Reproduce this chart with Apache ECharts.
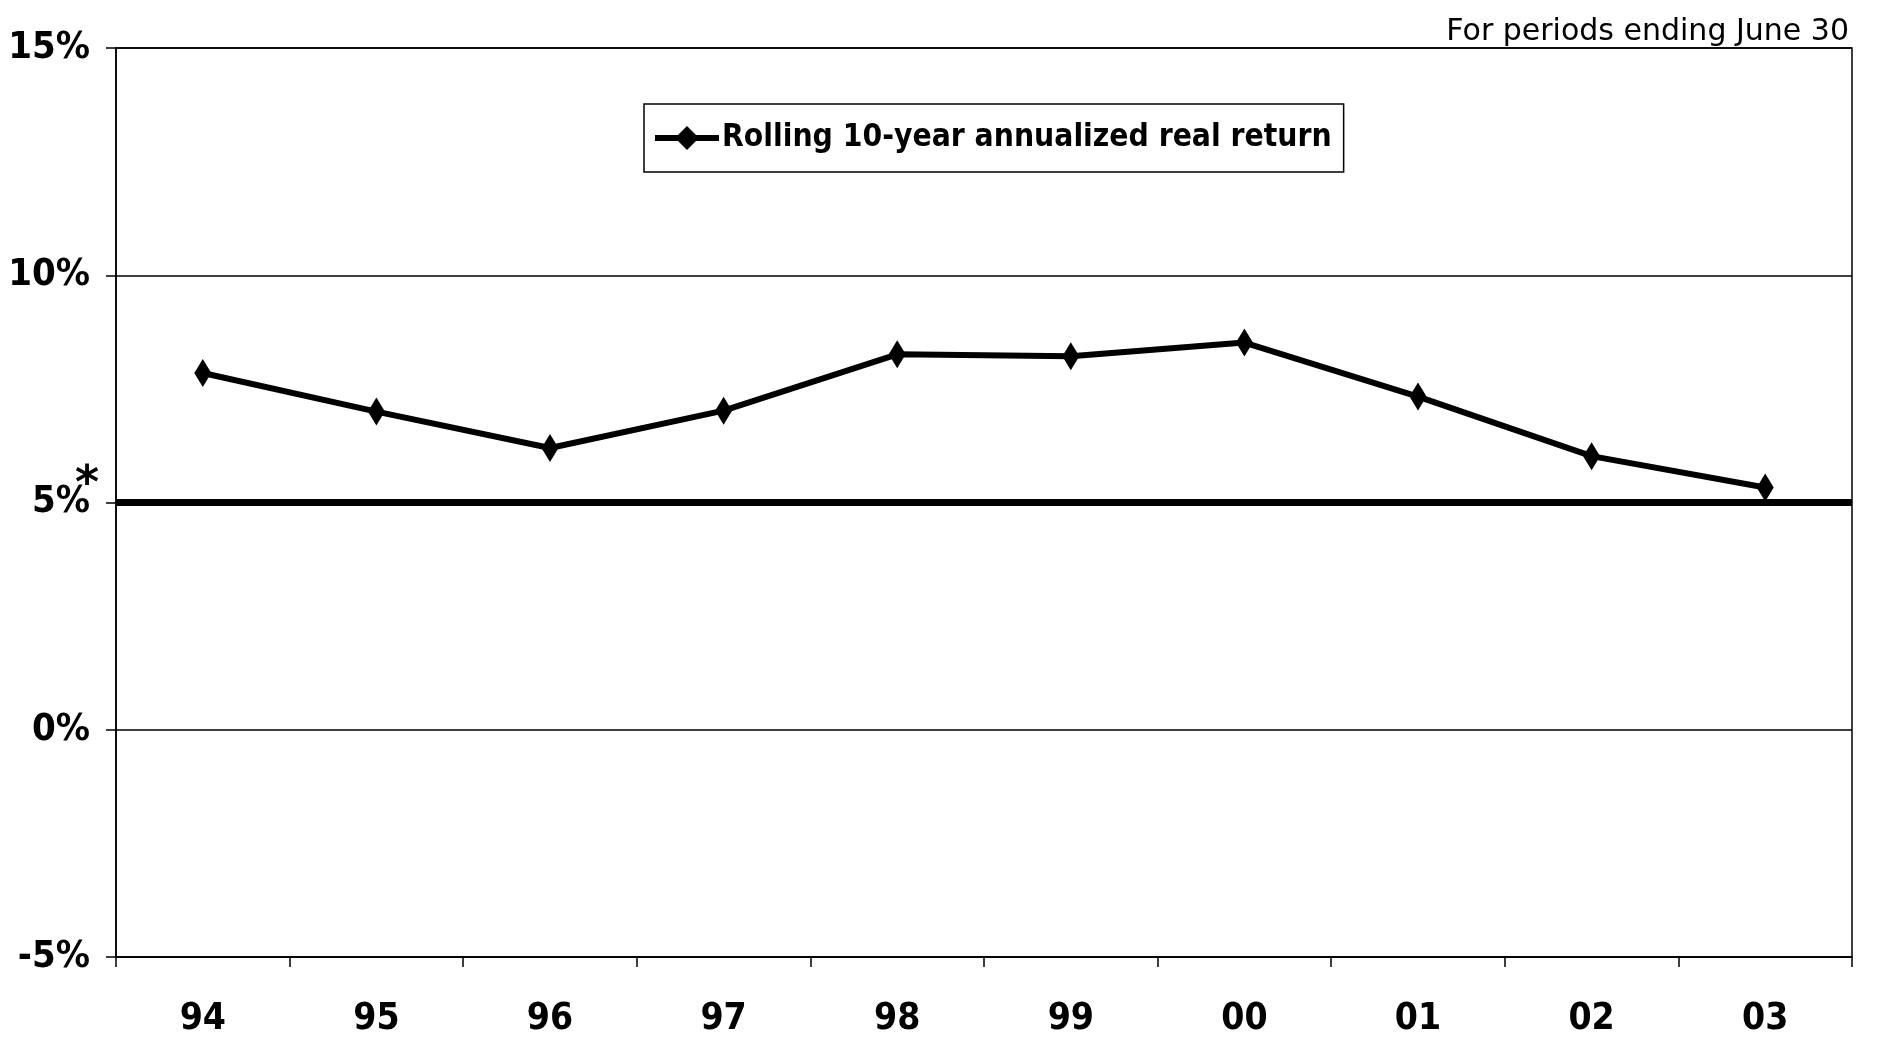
<!DOCTYPE html>
<html>
<head>
<meta charset="utf-8">
<script src="https://cdn.jsdelivr.net/npm/echarts@6/dist/echarts.min.js"></script>
<style>html,body{margin:0;padding:0;background:#fff}#c{width:1877px;height:1038px}</style>
</head>
<body>
<div id="c"></div>
<script>
const categories = ['94','95','96','97','98','99','00','01','02','03'];
const realReturn = [7.85, 7.0, 6.2, 7.02, 8.26, 8.22, 8.52, 7.33, 6.02, 5.33];
const seriesName = 'Rolling 10-year annualized real return';
const targetLevel = 5;
const yTicks = [-5, 0, 5, 10, 15];
const noteText = 'For periods ending June 30';

const boldFont = '"DejaVu Sans Condensed", "DejaVu Sans", sans-serif';
const chart = echarts.init(document.getElementById('c'), null, {renderer: 'canvas'});
chart.setOption({
  backgroundColor: '#fff',
  animation: false,
  title: {
    text: noteText, right: 23, top: 12,
    textStyle: {fontFamily: '"DejaVu Sans", sans-serif', fontWeight: 'normal', fontSize: 30, color: '#000'}
  },
  legend: {
    left: 644, top: 104,
    padding: [18, 12, 18, 8],
    borderColor: '#000', borderWidth: 1.5, backgroundColor: '#fff',
    itemWidth: 64, itemHeight: 30, itemGap: 2,
    lineStyle: {width: 6, color: '#000'},
    itemStyle: {color: '#000'},
    textStyle: {fontFamily: boldFont, fontWeight: 'bold', fontSize: 31.5, color: '#000', padding: [0,0,0,-2]},
    data: [{name: seriesName}]
  },
  grid: {left: 116, right: 25, top: 48, bottom: 81, outerBoundsMode: 'none', show: true, borderColor: '#000', borderWidth: 1.5, backgroundColor: 'transparent'},
  xAxis: {
    type: 'category', data: categories, boundaryGap: true,
    axisLine: {onZero: false, lineStyle: {color: '#000', width: 1.5}},
    axisTick: {show: true, length: 10, lineStyle: {color: '#000', width: 1.5}},
    axisLabel: {margin: 44, fontFamily: boldFont, fontWeight: 'bold', fontSize: 37, color: '#000'},
    splitLine: {show: false}
  },
  yAxis: {
    type: 'value', min: yTicks[0], max: yTicks[yTicks.length-1], interval: 5,
    axisLine: {show: true, lineStyle: {color: '#000', width: 1.5}},
    axisTick: {show: true, length: 10, lineStyle: {color: '#000', width: 1.5}},
    axisLabel: {margin: 26, fontFamily: boldFont, fontWeight: 'bold', fontSize: 38, color: '#000', formatter: v => v + '%'},
    splitLine: {show: true, lineStyle: {color: '#000', width: 1.5}}
  },
  series: [{
    name: seriesName, type: 'line', data: realReturn,
    symbol: 'diamond', symbolSize: [17, 28],
    lineStyle: {color: '#000', width: 6},
    itemStyle: {color: '#000'},
    markLine: {
      silent: true, symbol: 'none',
      label: {show: false},
      lineStyle: {color: '#000', width: 7, type: 'solid'},
      data: [{yAxis: targetLevel}]
    }
  }]
});
const p = chart.convertToPixel({yAxisIndex: 0}, targetLevel);
chart.setOption({
  graphic: [{
    type: 'text', left: 75, top: p - 39, silent: true,
    style: {text: '*', fontFamily: '"DejaVu Sans", sans-serif', fontWeight: 'bold', fontSize: 46, fill: '#000'}
  }]
});
</script>
</body>
</html>
